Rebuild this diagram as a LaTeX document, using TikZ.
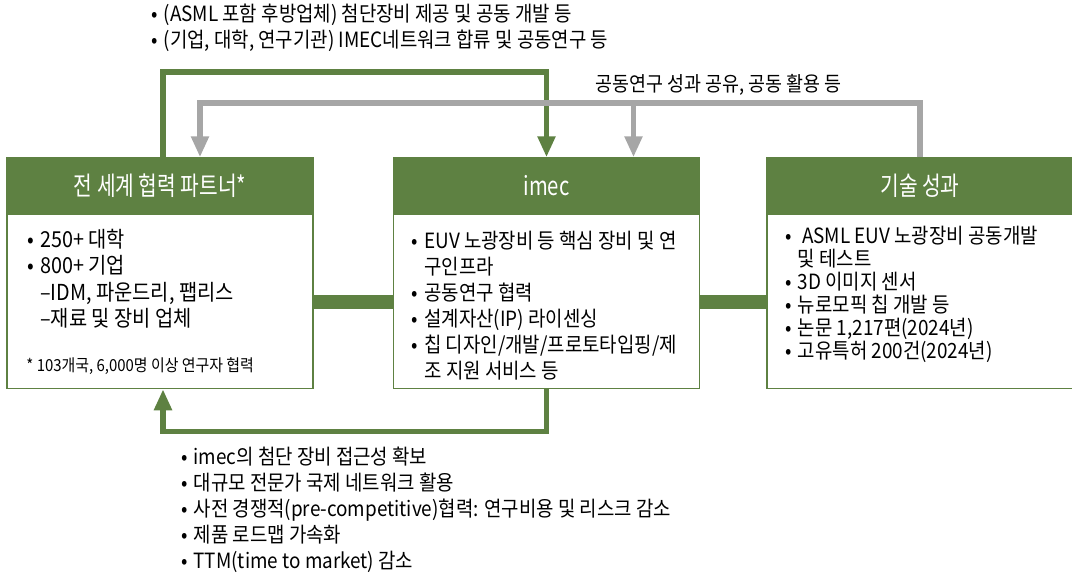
\documentclass[tikz,border=0pt]{standalone}
\usepackage{fontspec}
\setmainfont{Noto Sans CJK KR}[FakeStretch=0.9]
\newfontfamily\headfont{Noto Sans CJK KR}[FakeStretch=0.78]
\usetikzlibrary{arrows.meta, positioning}
\definecolor{imecgreen}{HTML}{5E8142}
\definecolor{sharegray}{HTML}{A6A6A6}
\newcommand{\bul}{•\hspace{6pt}}
\newcommand{\ind}{\hphantom{•\hspace{6pt}}}

\begin{document}
\begin{tikzpicture}[
    x=1pt, y=-1pt,
    headbox/.style={rectangle, draw=imecgreen, fill=imecgreen, line width=1.5pt, text=white,
                    minimum width=306pt, minimum height=55pt, inner sep=0pt,
                    font=\headfont\fontsize{26}{30}\selectfont},
    bodybox/.style={rectangle, draw=imecgreen, fill=white, line width=1.5pt,
                    minimum width=306pt, minimum height=174pt, inner sep=0pt},
    listtext/.style={align=left, inner sep=0pt, font=\fontsize{21}{26}\selectfont},
    linkbar/.style={draw=imecgreen, line width=14pt},
    greenarrow/.style={-{Triangle[width=17pt, length=21pt]}, draw=imecgreen, line width=5.5pt},
    grayarrow/.style={-{Triangle[width=17pt, length=21pt]}, draw=sharegray, line width=5.5pt}
]
\useasboundingbox (0,0) rectangle (1072,581);

% three boxes
\node[headbox] (partnerH) at (160,185.5) {전 세계 협력 파트너*};
\node[bodybox, below=0pt of partnerH] (partnerB) {};
\node[headbox, right=79pt of partnerH] (imecH) {imec};
\node[bodybox, below=0pt of imecH] (imecB) {};
\node[headbox, right=66pt of imecH] (techH) {기술 성과};
\node[bodybox, below=0pt of techH] (techB) {};

% box contents
\node[listtext, font=\fontsize{22}{26.5}\selectfont, below right=15pt and 21pt of partnerB.north west]
    (partnerL) {\bul 250+ 대학\\ \bul 800+ 기업\\ \ind –IDM, 파운드리, 팹리스\\ \ind –재료 및 장비 업체};
\node[listtext, font=\fontsize{16.6}{19}\selectfont, above right=14pt and 20pt of partnerB.south west]
    (partnerN) {* 103개국, 6,000명 이상 연구자 협력};
\node[listtext, below right=17pt and 19pt of imecB.north west] (imecL)
    {\bul EUV 노광장비 등 핵심 장비 및 연\\ \ind 구인프라\\ \bul 공동연구 협력\\
     \bul 설계자산(IP) 라이센싱\\ \bul 칩 디자인/개발/프로토타입핑/제\\ \ind 조 지원 서비스 등};
\node[listtext, font=\fontsize{21}{23}\selectfont, below right=12pt and 19pt of techB.north west]
    (techL) {\bul \ ASML EUV 노광장비 공동개발\\ \ind 및 테스트\\ \bul 3D 이미지 센서\\
     \bul 뉴로모픽 칩 개발 등\\ \bul 논문 1,217편(2024년)\\ \bul 고유특허 200건(2024년)};

% links between boxes
\draw[linkbar] (partnerB.east) -- (imecB.west);
\draw[linkbar] (imecB.east) -- (techB.west);

% partner -> imec (top)
\coordinate (topG) at (0,72);
\draw[greenarrow] ([xshift=3pt]partnerH.north) -- ([xshift=3pt]partnerH.north |- topG) -| (imecH.north);
\node[listtext, anchor=west] (topL) at (151,28)
    {\bul (ASML 포함 후방업체) 첨단장비 제공 및 공동 개발 등\\
     \bul (기업, 대학, 연구기관) IMEC네트워크 합류 및 공동연구 등};

% results shared (gray)
\coordinate (topS) at (0,103);
\draw[grayarrow] (techH.north) -- (techH.north |- topS) -| ([xshift=40pt]partnerH.north);
\draw[grayarrow] ([xshift=87pt]imecH.north |- topS) -- ([xshift=87pt]imecH.north);
\node[listtext, anchor=west, font=\fontsize{20.5}{26}\selectfont] (shareL) at (595,85)
    {공동연구 성과 공유, 공동 활용 등};

% imec -> partner (bottom)
\draw[greenarrow] (imecB.south) -- ++(0,42) -| ([xshift=3pt]partnerB.south);
\node[listtext, anchor=west] (bottomL) at (181,510)
    {\bul imec의 첨단 장비 접근성 확보\\ \bul 대규모 전문가 국제 네트워크 활용\\
     \bul 사전 경쟁적(pre-competitive)협력: 연구비용 및 리스크 감소\\
     \bul 제품 로드맵 가속화\\ \bul TTM(time to market) 감소};
\end{tikzpicture}
\end{document}
